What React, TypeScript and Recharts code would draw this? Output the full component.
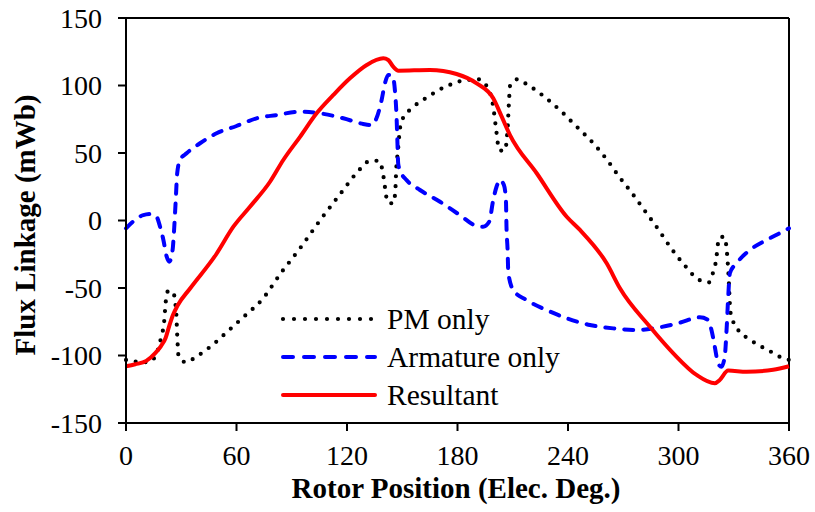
import React from "react"
import { LineChart, Line, XAxis, YAxis, Legend, ReferenceLine } from "recharts"

// PM only (dotted black)
const pmDeg = [0, 5.8, 11.8, 16.1, 18.1, 19.4, 20.6, 21.6, 22.6, 25.7, 26.6, 27.3, 27.8, 28.6, 32.6, 38, 47.4, 56.1, 65, 73.7, 84.1, 94.5, 105.3, 116.2, 127, 131.5, 137, 139.3, 140.2, 141, 141.9, 145.1, 146.2, 146.7, 147.7, 148.8, 150.6, 154.6, 159.1, 164.2, 169.1, 174.5, 180, 191.5, 195.8, 199.4, 200.9, 202.7, 205.7, 207.2, 208.1, 208.5, 212.5, 217.5, 227.5, 236.5, 244.7, 253.2, 261, 267.8, 274.9, 281.8, 289, 295.7, 302.9, 311.2, 316.6, 318.8, 320.3, 322, 324.8, 326.1, 327, 328.3, 333, 337.8, 343.3, 348.7, 354.1, 360]
const pmVal = [-103.3, -104.6, -105, -100.4, -92, -84.8, -76.7, -60, -52.7, -52.7, -60, -68.7, -84.8, -101, -105, -101, -91.7, -81, -70, -58.9, -39, -20.6, 0, 19.4, 38, 43.6, 44.3, 37, 28.7, 21, 13.5, 12.7, 21, 37, 52, 68.7, 76.4, 82.4, 87.5, 91.7, 96.2, 99.6, 102.8, 104.6, 99.6, 84.3, 68.3, 52, 51.7, 68.3, 91.7, 99.6, 104.6, 101, 91.3, 80.6, 69.5, 58, 45.3, 32.4, 20, 7, -6.5, -20, -32.5, -44, -45.8, -38.4, -30.5, -13.2, -12, -20.6, -36.7, -68.7, -82.3, -87.3, -92.2, -96, -100.4, -103.3]

// Armature only (dashed blue)
const armDeg = [0, 4.9, 9.4, 13.9, 16.6, 18.5, 20.3, 22.1, 23.5, 25.3, 26, 27, 27.8, 29.3, 32.9, 40.2, 49.2, 60, 70.9, 81.7, 94.5, 105.3, 118, 128.8, 133.3, 136, 138.8, 140.6, 142.4, 144.7, 146, 146.9, 147.4, 147.8, 148.7, 152.3, 159.6, 170.5, 181.3, 190.3, 193.9, 197.2, 199.4, 201.2, 203, 205.2, 206.3, 206.6, 207.2, 207.6, 210.3, 217.5, 228.3, 239.2, 251.9, 264.6, 277.2, 289.9, 300.7, 311.6, 316.1, 317.9, 319.7, 321.5, 323.3, 325.1, 326.1, 327, 327.9, 331.5, 338.7, 347.8, 354.8, 360]
const armVal = [-5.8, 0.4, 4, 4.8, 2.8, -4.6, -14.4, -26.8, -30.5, -21.9, -9.5, 15, 35, 44.8, 49.8, 57.2, 64.6, 70, 75.7, 78.1, 80.6, 79.4, 75.7, 71.5, 70.7, 75.7, 89.3, 101.6, 107.8, 107, 96.7, 76.9, 57.2, 42, 37.4, 30, 22.6, 13.9, 4, -4, -4.6, -0.9, 15.2, 25, 30, 26.3, 15.2, -4.6, -21.9, -39, -51.5, -58.9, -66.3, -72.4, -77.4, -79.9, -81.1, -79.1, -75.7, -71.7, -73.7, -81.1, -93.5, -105.8, -108.3, -100.9, -81.1, -56.4, -39, -31.7, -21.9, -14.4, -9.5, -5.8]

// Resultant (solid red)
const resDeg = [0, 5, 11, 16, 19, 21.5, 23.5, 25.5, 28, 35, 49, 58.3, 67.3, 78.2, 85.4, 94.5, 103.5, 112.6, 121.6, 130.7, 139.7, 142.4, 145.1, 147.9, 165, 179.5, 190.4, 199.4, 204, 208.5, 223, 239.3, 246.5, 261, 268.2, 284.5, 297.2, 309.8, 319.7, 322.4, 327, 337, 351.4, 360]
const resVal = [-108, -106.5, -104, -98, -93, -87, -78, -70, -63, -50, -25, -4.6, 10.2, 28.7, 44.8, 62, 79.4, 93, 105.3, 115.2, 120.1, 118.9, 113.9, 111, 111.5, 108.5, 101.6, 90.5, 76.9, 63.3, 35, 2.8, -7, -31.7, -50.2, -78.7, -98.4, -114.4, -120.6, -118.1, -111.2, -112, -110.6, -108]

const xTicks = [0, 60, 120, 180, 240, 300, 360]
const yTicks = [-150, -100, -50, 0, 50, 100, 150]

const zip = (xs: number[], ys: number[]) => xs.map((deg, i) => ({ deg, v: ys[i] }))
const pmData = zip(pmDeg, pmVal)
const armData = zip(armDeg, armVal)
const resData = zip(resDeg, resVal)

const FONT = "'Liberation Serif', 'Times New Roman', serif"

const legendItems = [
  { label: "PM only", color: "#000000", dash: "0 11", width: 4.2 },
  { label: "Armature only", color: "#0000FF", dash: "10 11", width: 4 },
  { label: "Resultant", color: "#FF0000", dash: undefined, width: 4 },
]

function LegendBox() {
  return (
    <svg width={290} height={120} style={{ fontFamily: FONT }}>
      {legendItems.map((it, i) => (
        <g key={it.label}>
          <line x1={5} x2={97} y1={19 + i * 38} y2={19 + i * 38} stroke={it.color} strokeWidth={it.width}
            strokeDasharray={it.dash} strokeLinecap="round" />
          <text x={109} y={19 + i * 38} dominantBaseline="central" fontSize={29.5} fill="#000">{it.label}</text>
        </g>
      ))}
    </svg>
  )
}

const YTitle = () => (
  <text x={35} y={225} transform="rotate(-90 35 225)" textAnchor="middle" fontSize={29} fontWeight="bold"
    fontFamily={FONT} fill="#000">Flux Linkage (mWb)</text>
)

const XTitle = () => (
  <text x={456} y={498} textAnchor="middle" fontSize={29} fontWeight="bold" fontFamily={FONT} fill="#000">
    Rotor Position (Elec. Deg.)
  </text>
)

export default function App() {
  const tickStyle = { fontSize: 28, fill: "#000", fontFamily: FONT }
  return (
    <div style={{ position: "absolute", left: 0, top: 0, background: "#fff" }}>
      <LineChart width={815} height={512} margin={{ top: 18, right: 26, left: 0, bottom: 0 }}>
        <XAxis type="number" dataKey="deg" domain={[0, 360]} ticks={xTicks} height={89}
          axisLine={{ stroke: "#000", strokeWidth: 2 }} tickLine={{ stroke: "#000", strokeWidth: 2 }}
          tickSize={8} tickMargin={14} tick={tickStyle} label={<XTitle />} />
        <YAxis type="number" domain={[-150, 150]} ticks={yTicks} width={126} interval={0}
          axisLine={{ stroke: "#000", strokeWidth: 2 }} tickLine={{ stroke: "#000", strokeWidth: 2 }}
          tickSize={8} tickMargin={16} tick={tickStyle} label={<YTitle />} />
        <ReferenceLine y={150} stroke="#000" strokeWidth={2} />
        <ReferenceLine x={360} stroke="#000" strokeWidth={2} />
        <Line data={pmData} dataKey="v" name="PM only" type="monotone" stroke="#000" strokeWidth={4.2}
          strokeDasharray="0 9.8" strokeLinecap="round" dot={false} isAnimationActive={false} />
        <Line data={armData} dataKey="v" name="Armature only" type="monotone" stroke="#0000FF" strokeWidth={4}
          strokeDasharray="9 10" strokeLinecap="round" dot={false} isAnimationActive={false} />
        <Line data={resData} dataKey="v" name="Resultant" type="monotone" stroke="#FF0000" strokeWidth={4}
          dot={false} isAnimationActive={false} />
        <Legend layout="horizontal" verticalAlign="middle" align="center" content={() => <LegendBox />}
          wrapperStyle={{ left: 278, top: 300, width: 290, height: 120 }} />
      </LineChart>
    </div>
  )
}
